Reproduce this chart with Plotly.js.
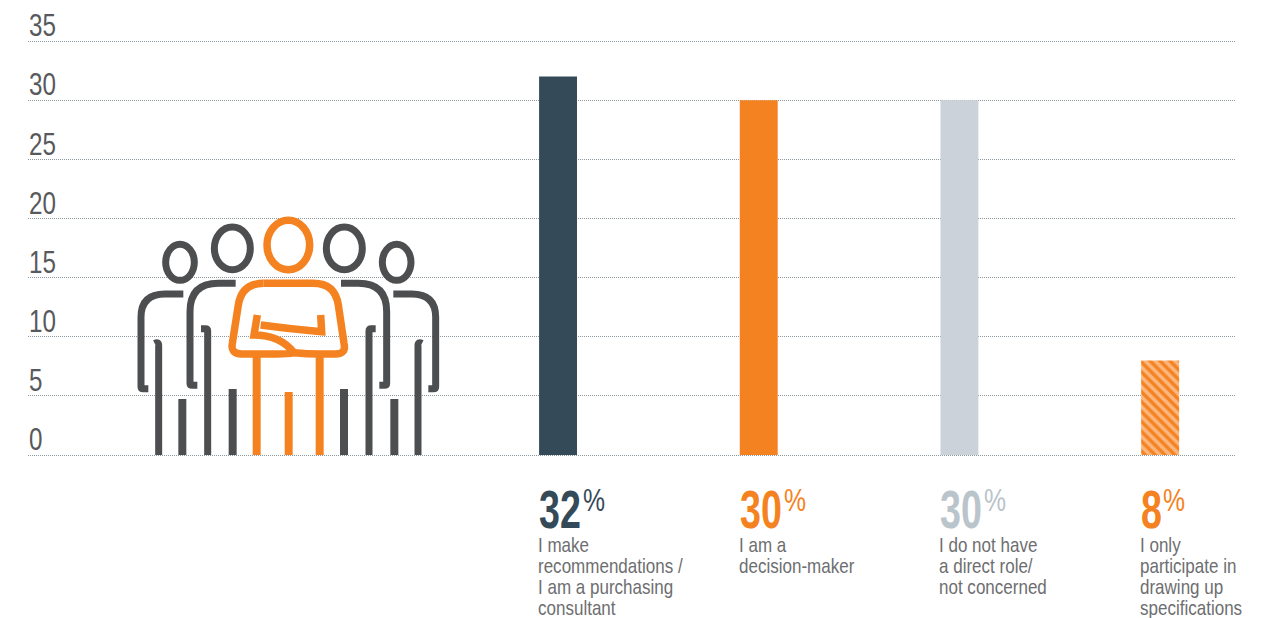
<!DOCTYPE html>
<html>
<head>
<meta charset="utf-8">
<script src="https://cdn.plot.ly/plotly-3.0.1.min.js"></script>
<style>html,body{margin:0;padding:0;background:#fff}#chart{width:1268px;height:618px}</style>
</head>
<body>
<div id="chart"></div>
<script>
// Survey answers: share of respondents by role in the purchasing decision
const positions = [0, 1, 2, 3];
const shares = [32, 30, 30, 8];
const barColors = ['#354a59', '#f58220', '#cbd2d9', '#f58220'];
const numberColors = ['#354a59', '#f58220', '#bac4cb', '#f58220'];
const hatched = [false, false, false, true];
const answerLines = [
  ['I make', 'recommendations /', 'I am a purchasing', 'consultant'],
  ['I am a', 'decision-maker'],
  ['I do not have', 'a direct role/', 'not concerned'],
  ['I only', 'participate in', 'drawing up', 'specifications']
];
const yTicks = [0, 5, 10, 15, 20, 25, 30, 35];

const FONT = '"Liberation Sans", sans-serif';
const GREY = '#4d4e50';
const ORANGE = '#f58220';
const PEACH = '#fbb77f';

// Icon outlines, authored on a 3x grid whose origin sits left of the plot area.
const ellipse = (cx, cy, rx, ry) => {
  const k = 0.5523;
  return `M${cx - rx} ${cy} C${cx - rx} ${cy - k * ry} ${cx - k * rx} ${cy - ry} ${cx} ${cy - ry} ` +
    `C${cx + k * rx} ${cy - ry} ${cx + rx} ${cy - k * ry} ${cx + rx} ${cy} ` +
    `C${cx + rx} ${cy + k * ry} ${cx + k * rx} ${cy + ry} ${cx} ${cy + ry} ` +
    `C${cx - k * rx} ${cy + ry} ${cx - rx} ${cy + k * ry} ${cx - rx} ${cy} Z`;
};
const greyLeft = [
  ellipse(180, 187, 43, 54),
  ellipse(337, 145, 54, 64),
  'M190 282 L135 282 Q63 282 63 352 L63 560 Q63 566 70 566 L85 566',
  'M347 250 L295 250 Q210 250 210 335 L210 550 Q210 556 217 556 L232 556',
  'M243 386 L256 386 Q263 386 263 393 L263 765',
  'M104 430 Q116 424 116 436 L116 765'
];
const greyShortLegs = ['M187 597 L187 765', 'M338 567 L338 765'];
const orangeParts = [
  ellipse(505, 135, 64, 74),
  'M430 250 Q365 250 355 315 L337 430 Q331 462 365 462 L470 462 Q505 462 522 458 Q480 405 402 405 L412 345',
  'M422 375 Q510 387 605 395 L602 345',
  'M522 458 Q560 462 600 462 L645 462 Q680 462 672 430 L655 315 Q645 250 580 250 L430 250'
];
const orangeLegs = ['M410 465 L410 765', 'M599 465 L599 765', 'M506 576 L506 765'];
// Bottom-left of the plot area is the icon's pixel origin (x 28, y 461).
const toPixels = (path, mirror) => path.replace(/(-?[\d.]+) (-?[\d.]+)/g, (m, zx, zy) => {
  const gx = mirror ? 1010 - Number(zx) : Number(zx);
  return `${(gx / 3 + 120 - 28).toFixed(2)} ${(461 - (Number(zy) / 3 + 200)).toFixed(2)}`;
});
const iconShape = (path, color, width) => ({
  type: 'path', layer: 'above', path,
  xref: 'paper', yref: 'paper',
  xsizemode: 'pixel', ysizemode: 'pixel', xanchor: 0, yanchor: 0,
  line: {color, width}, fillcolor: 'rgba(0,0,0,0)'
});
const shapes = [];
greyLeft.forEach(p => {
  shapes.push(iconShape(toPixels(p, false), GREY, 7));
  shapes.push(iconShape(toPixels(p, true), GREY, 7));
});
greyShortLegs.forEach(p => {
  shapes.push(iconShape(toPixels(p, false), GREY, 8));
  shapes.push(iconShape(toPixels(p, true), GREY, 8));
});
orangeParts.forEach(p => shapes.push(iconShape(toPixels(p, false), ORANGE, 7.5)));
orangeLegs.forEach(p => shapes.push(iconShape(toPixels(p, false), ORANGE, 8)));

// Value and answer captions under each bar
const annotations = [];
const textShift = -20;
const caption = (pos, text, xshift, yshift, font) => ({
  x: pos, y: 0, xref: 'x', yref: 'paper', xanchor: 'left', yanchor: 'top', align: 'left',
  xshift, yshift, showarrow: false, borderpad: 0, text, font
});
positions.forEach((pos, i) => {
  const digits = String(shares[i]).length;
  annotations.push(caption(pos, String(shares[i]), textShift, -18,
    {family: FONT, size: 53, weight: 700, color: numberColors[i]}));
  annotations.push(caption(pos, '%', textShift + digits * 22, -21,
    {family: FONT, size: 31, color: numberColors[i]}));
  answerLines[i].forEach((line, j) => {
    annotations.push(caption(pos, line, textShift - 1, -71 - j * 21,
      {family: FONT, size: 21, color: '#6d6e70'}));
  });
});

// Solid bars and the hatched bar are separate traces so the hatch keeps its own two colours.
const pick = (values, wanted) => values.filter((v, i) => hatched[i] === wanted);
const solidBars = {
  type: 'bar',
  x: pick(positions, false),
  y: pick(shares, false),
  width: 0.189,
  hoverinfo: 'none',
  marker: {color: pick(barColors, false), line: {width: 0}}
};
const hatchedBars = {
  type: 'bar',
  x: pick(positions, true),
  y: pick(shares, true),
  width: 0.189,
  hoverinfo: 'none',
  marker: {
    color: PEACH,
    line: {width: 0},
    pattern: {shape: '\\', fgcolor: ORANGE, bgcolor: PEACH, fgopacity: 1, fillmode: 'replace', size: 7, solidity: 0.5}
  }
};

const layout = {
  width: 1268,
  height: 618,
  margin: {l: 28, r: 32, t: 1, b: 157},
  paper_bgcolor: '#fff',
  plot_bgcolor: '#fff',
  showlegend: false,
  barmode: 'overlay',
  xaxis: {
    range: [-2.641, 3.378],
    showticklabels: false,
    showgrid: false,
    zeroline: false,
    ticks: '',
    fixedrange: true
  },
  yaxis: {
    range: [-0.5, 38.389],
    tickvals: yTicks,
    ticktext: yTicks.map(String),
    ticklabelposition: 'inside top',
    ticklabelshift: 6,
    tickfont: {family: FONT, size: 31, color: '#58595b'},
    showgrid: true,
    gridcolor: '#8d979e',
    griddash: '1px,1px',
    gridwidth: 1,
    zeroline: false,
    ticks: '',
    showline: false,
    fixedrange: true
  },
  shapes,
  annotations
};

// The captions and ticks are set in a condensed cut, obtained by narrowing the glyphs.
const condense = (selection, factor) => {
  selection.forEach(el => {
    el.setAttribute('textLength', (el.getComputedTextLength() * factor).toFixed(2));
    el.setAttribute('lengthAdjust', 'spacingAndGlyphs');
  });
};

Plotly.newPlot('chart', [solidBars, hatchedBars], layout, {displayModeBar: false, staticPlot: true}).then(gd => {
  gd.querySelectorAll('.ytick text').forEach(el => {
    el.setAttribute('x', parseFloat(el.getAttribute('x')) - 2);
  });
  condense(gd.querySelectorAll('.ytick text'), 0.78);
  gd.querySelectorAll('.annotation-text').forEach(el => {
    const size = parseFloat(el.style.fontSize);
    condense([el], size > 40 ? 0.71 : size > 25 ? 0.8 : 0.81);
  });
});
</script>
</body>
</html>
